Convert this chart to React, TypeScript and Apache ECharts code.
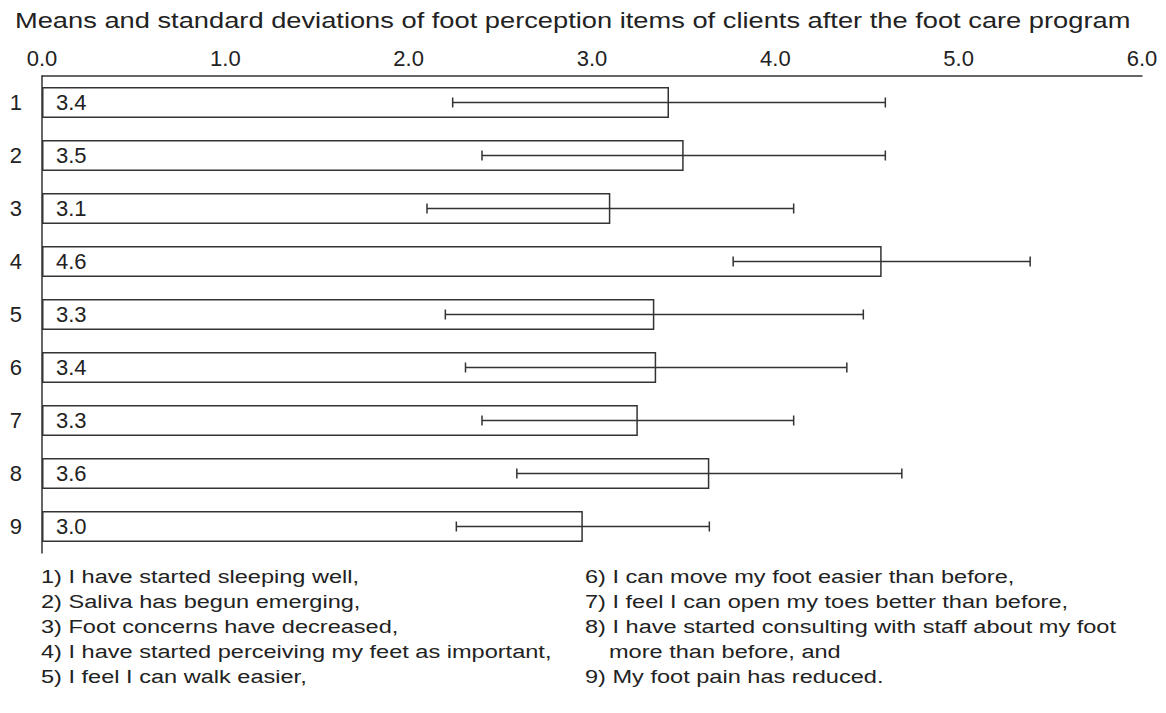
import React, { useEffect, useRef } from "react";
import * as echarts from "echarts";

const items = ["1", "2", "3", "4", "5", "6", "7", "8", "9"];
const means = [3.42, 3.5, 3.1, 4.58, 3.34, 3.35, 3.25, 3.64, 2.95];
const sds = [1.18, 1.1, 1.0, 0.81, 1.14, 1.04, 0.85, 1.05, 0.69];
const meanLabels = ["3.4", "3.5", "3.1", "4.6", "3.3", "3.4", "3.3", "3.6", "3.0"];
const xTicks = [0, 1, 2, 3, 4, 5, 6];

const title =
  "Means and standard deviations of foot perception items of clients after the foot care program";
const notesLeft = [
  "1) I have started sleeping well,",
  "2) Saliva has begun emerging,",
  "3) Foot concerns have decreased,",
  "4) I have started perceiving my feet as important,",
  "5) I feel I can walk easier,",
];
const notesRight = [
  "6) I can move my foot easier than before,",
  "7) I feel I can open my toes better than before,",
  "8) I have started consulting with staff about my foot",
  "    more than before, and",
  "9) My foot pain has reduced.",
];

const FONT = "'Liberation Sans', Arial, Helvetica, sans-serif";
const TEXT = "#222";
const LINE = "#333";
const STRETCH = 1.24;

export default function App() {
  const ref = useRef<HTMLDivElement>(null);
  useEffect(() => {
    if (!ref.current) return;
    const chart = echarts.init(ref.current, null, { renderer: "svg" });
    const graphics: any[] = [
      {
        type: "text",
        x: 15,
        y: 20,
        scaleX: STRETCH,
        style: { text: title, font: `22px ${FONT}`, fill: TEXT, verticalAlign: "middle" },
      },
    ];
    notesLeft.forEach((t, i) => {
      graphics.push({
        type: "text",
        x: 41,
        y: 577 + 25 * i,
        scaleX: STRETCH,
        style: { text: t, font: `19px ${FONT}`, fill: TEXT, verticalAlign: "middle" },
      });
    });
    notesRight.forEach((t, i) => {
      const indent = t.startsWith("    ");
      graphics.push({
        type: "text",
        x: indent ? 609 : 585,
        y: 577 + 25 * i,
        scaleX: STRETCH,
        style: { text: t.trim(), font: `19px ${FONT}`, fill: TEXT, verticalAlign: "middle" },
      });
    });

    chart.setOption({
      animation: false,
      backgroundColor: "#fff",
      textStyle: { fontFamily: FONT },
      grid: { left: 42, right: 24, top: 76, height: 477, containLabel: false },
      xAxis: {
        type: "value",
        position: "top",
        min: 0,
        max: 6,
        interval: 1,
        axisLine: { show: true, lineStyle: { color: LINE, width: 1.5 } },
        axisTick: { show: false },
        splitLine: { show: false },
        axisLabel: {
          color: TEXT,
          fontSize: 22,
          margin: 7,
          formatter: (v: number) => (xTicks.includes(v) ? v.toFixed(1) : ""),
        },
      },
      yAxis: {
        type: "category",
        data: items,
        inverse: true,
        axisLine: { show: true, lineStyle: { color: LINE, width: 1.5 } },
        axisTick: { show: false },
        axisLabel: { color: TEXT, fontSize: 22, margin: 20 },
      },
      series: [
        {
          type: "bar",
          data: means,
          barWidth: 31,
          itemStyle: { color: "#fff", borderColor: LINE, borderWidth: 1.5 },
          label: {
            show: true,
            position: "insideLeft",
            distance: 14,
            color: TEXT,
            fontSize: 22,
            formatter: (p: any) => meanLabels[p.dataIndex],
          },
          z: 2,
        },
        {
          type: "custom",
          data: means.map((m, i) => [i, m - sds[i], m + sds[i]]),
          encode: { x: [1, 2], y: 0 },
          z: 3,
          renderItem: (params: any, api: any) => {
            const idx = api.value(0);
            const lo = api.coord([api.value(1), idx]);
            const hi = api.coord([api.value(2), idx]);
            const h = 5;
            const style = { stroke: LINE, lineWidth: 1.5 };
            return {
              type: "group",
              children: [
                { type: "line", shape: { x1: lo[0], y1: lo[1], x2: hi[0], y2: hi[1] }, style },
                { type: "line", shape: { x1: lo[0], y1: lo[1] - h, x2: lo[0], y2: lo[1] + h }, style },
                { type: "line", shape: { x1: hi[0], y1: hi[1] - h, x2: hi[0], y2: hi[1] + h }, style },
              ],
            };
          },
        },
      ],
      graphic: graphics,
    });
    return () => chart.dispose();
  }, []);
  return (
    <div
      ref={ref}
      style={{ position: "fixed", left: 0, top: 0, width: 1166, height: 713, background: "#fff" }}
    />
  );
}
